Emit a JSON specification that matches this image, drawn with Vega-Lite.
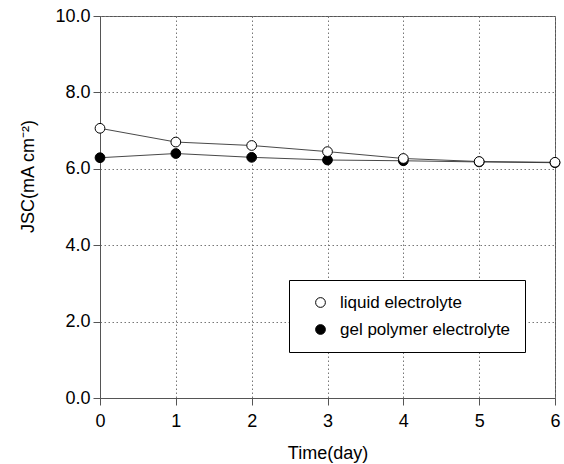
{
  "$schema": "https://vega.github.io/schema/vega-lite/v6.json",
  "width": 455,
  "height": 382,
  "autosize": {"type": "none"},
  "padding": {"left": 100, "top": 16, "right": 9, "bottom": 66},
  "background": "white",
  "config": {
    "font": "Liberation Sans",
    "view": {"stroke": "#555", "strokeWidth": 1},
    "axis": {
      "domainColor": "#555",
      "tickColor": "#555",
      "labelFont": "Liberation Sans",
      "titleFont": "Liberation Sans",
      "labelFontSize": 18,
      "titleFontSize": 18,
      "labelColor": "black",
      "titleColor": "black",
      "titleFontWeight": "normal",
      "labelFlush": false,
      "gridColor": "#777",
      "gridDash": [1.5, 2.5],
      "gridWidth": 1,
      "tickSize": 7
    },
    "legend": {
      "labelFont": "Liberation Sans",
      "labelFontSize": 17,
      "labelColor": "black",
      "labelLimit": 400
    }
  },
  "data": {
    "values": [
      {"day": 0, "Jsc": 7.06, "series": "liquid electrolyte"},
      {"day": 1, "Jsc": 6.70, "series": "liquid electrolyte"},
      {"day": 2, "Jsc": 6.61, "series": "liquid electrolyte"},
      {"day": 3, "Jsc": 6.45, "series": "liquid electrolyte"},
      {"day": 4, "Jsc": 6.27, "series": "liquid electrolyte"},
      {"day": 5, "Jsc": 6.19, "series": "liquid electrolyte"},
      {"day": 6, "Jsc": 6.17, "series": "liquid electrolyte"},
      {"day": 0, "Jsc": 6.29, "series": "gel polymer electrolyte"},
      {"day": 1, "Jsc": 6.40, "series": "gel polymer electrolyte"},
      {"day": 2, "Jsc": 6.30, "series": "gel polymer electrolyte"},
      {"day": 3, "Jsc": 6.23, "series": "gel polymer electrolyte"},
      {"day": 4, "Jsc": 6.21, "series": "gel polymer electrolyte"},
      {"day": 5, "Jsc": 6.18, "series": "gel polymer electrolyte"},
      {"day": 6, "Jsc": 6.16, "series": "gel polymer electrolyte"}
    ]
  },
  "encoding": {
    "x": {
      "field": "day",
      "type": "quantitative",
      "scale": {"domain": [0, 6], "nice": false, "zero": false},
      "axis": {"values": [0, 1, 2, 3, 4, 5, 6], "format": "d", "title": "Time(day)", "labelPadding": 7, "titlePadding": 14}
    },
    "y": {
      "field": "Jsc",
      "type": "quantitative",
      "scale": {"domain": [0, 10], "nice": false},
      "axis": {"values": [0, 2, 4, 6, 8, 10], "format": ".1f", "title": "JSC(mA cm⁻²)", "labelPadding": 3, "titlePadding": 17, "titleY": 160}
    }
  },
  "layer": [
    {
      "mark": {"type": "line", "color": "#333", "strokeWidth": 0.9},
      "encoding": {"detail": {"field": "series"}}
    },
    {
      "mark": {"type": "point", "filled": true, "size": 95, "stroke": "black", "strokeWidth": 1, "opacity": 1},
      "encoding": {
        "fill": {
          "field": "series",
          "type": "nominal",
          "scale": {"domain": ["liquid electrolyte", "gel polymer electrolyte"], "range": ["white", "black"]},
          "legend": {
            "title": null,
            "orient": "none",
            "legendX": 189,
            "legendY": 264,
            "strokeColor": "black",
            "fillColor": "white",
            "padding": 14,
            "symbolType": "circle",
            "symbolSize": 95,
            "symbolStrokeColor": "black",
            "symbolStrokeWidth": 1,
            "symbolOffset": 9,
            "rowPadding": 9,
            "labelOffset": 11
          }
        },
        "order": {"field": "series", "sort": "ascending"}
      }
    }
  ]
}
